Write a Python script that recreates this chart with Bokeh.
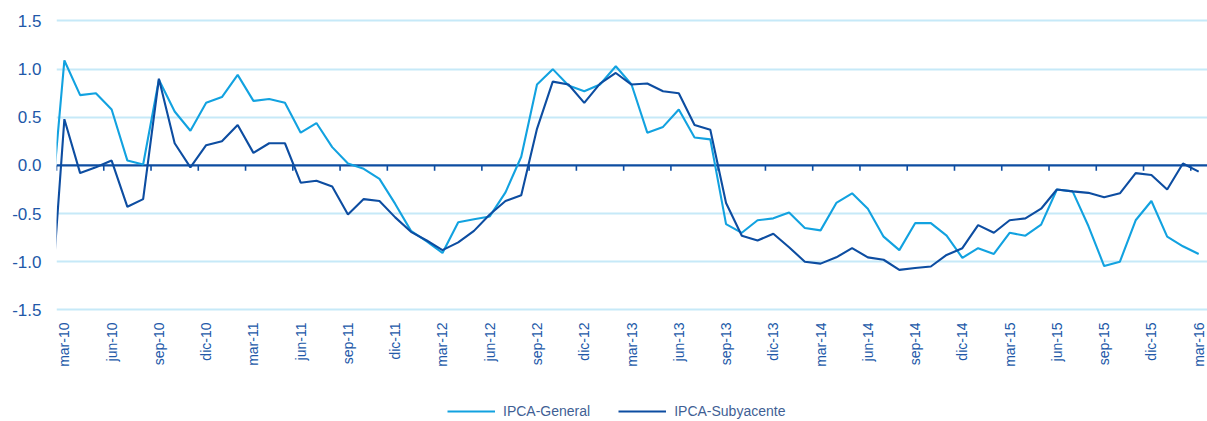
from math import pi
from bokeh.plotting import figure
from bokeh.models import (Range1d, FixedTicker, PrintfTickFormatter, Span,
                          Legend, LegendItem, ColumnDataSource)
from bokeh.core.properties import value
from bokeh.embed import file_html
from bokeh.resources import INLINE

# Quarterly axis labels (mar-10 ... mar-16)
tick_labels = ["mar-10", "jun-10", "sep-10", "dic-10",
               "mar-11", "jun-11", "sep-11", "dic-11",
               "mar-12", "jun-12", "sep-12", "dic-12",
               "mar-13", "jun-13", "sep-13", "dic-13",
               "mar-14", "jun-14", "sep-14", "dic-14",
               "mar-15", "jun-15", "sep-15", "dic-15",
               "mar-16"]

# Monthly values, feb-10 (partly outside the plot) ... mar-16
ipca_general = [
    -0.75,
    1.09, 0.73, 0.75, 0.58, 0.05, 0.01, 0.89, 0.56, 0.36, 0.65, 0.71, 0.94,
    0.67, 0.69, 0.65, 0.34, 0.44, 0.19, 0.02, -0.035, -0.14, -0.40, -0.68, -0.79,
    -0.91, -0.59, -0.56, -0.53, -0.28, 0.09, 0.84, 1.00, 0.83, 0.77, 0.84, 1.03,
    0.84, 0.34, 0.40, 0.58, 0.29, 0.27, -0.61, -0.70, -0.57, -0.55, -0.49, -0.65,
    -0.675, -0.39, -0.29, -0.45, -0.74, -0.88, -0.60, -0.60, -0.73, -0.96, -0.86, -0.92,
    -0.70, -0.73, -0.615, -0.25, -0.27, -0.63, -1.045, -1.00, -0.57, -0.37, -0.74, -0.84,
    -0.92,
]
ipca_subyacente = [
    -1.79,
    0.48, -0.08, -0.02, 0.05, -0.43, -0.35, 0.90, 0.23, -0.02, 0.21, 0.25, 0.42,
    0.13, 0.23, 0.23, -0.18, -0.16, -0.22, -0.51, -0.35, -0.37, -0.54, -0.69, -0.78,
    -0.88, -0.80, -0.68, -0.51, -0.37, -0.31, 0.38, 0.87, 0.84, 0.65, 0.85, 0.96,
    0.84, 0.85, 0.77, 0.75, 0.42, 0.37, -0.39, -0.73, -0.78, -0.71, -0.85, -1.00,
    -1.02, -0.955, -0.86, -0.955, -0.98, -1.085, -1.065, -1.05, -0.93, -0.86, -0.62, -0.70,
    -0.57, -0.55, -0.45, -0.25, -0.27, -0.285, -0.33, -0.29, -0.08, -0.10, -0.25, 0.02,
    -0.065,
]
y_ticks = [-1.5, -1.0, -0.5, 0.0, 0.5, 1.0, 1.5]

LIGHT = "#12A2E0"
DARK = "#0D4DA1"
TEXT = "#2158A8"
GRID = "#C6E9F8"
FONT = "Liberation Sans"

x = list(range(-1, len(ipca_general) - 1))
tick_pos = [3 * k for k in range(len(tick_labels))]

src = ColumnDataSource(dict(x=x, gen=ipca_general, sub=ipca_subyacente))

# the frame reaches the bottom of the page; the area below -1.5 holds the
# category labels and the legend
p = figure(width=1207, height=421, output_backend="svg", toolbar_location=None,
           x_range=Range1d(-0.5, 72.56), y_range=Range1d(-2.66, 1.557),
           min_border_left=56, min_border_right=0, min_border_top=15,
           min_border_bottom=0)
p.outline_line_color = None
p.background_fill_color = "white"
p.xaxis.visible = False

p.xgrid.visible = False
p.ygrid.ticker = FixedTicker(ticks=[t for t in y_ticks if t != 0])
p.ygrid.grid_line_color = GRID
p.ygrid.grid_line_width = 2

zero = Span(location=0, dimension="width", line_color=DARK, line_width=2.2,
            level="underlay")
p.add_layout(zero)

# small tick marks hanging from the zero line, between quarters
mk = [t - 0.5 for t in tick_pos]
p.segment(x0=mk, y0=[0] * len(mk), x1=mk, y1=[-0.055] * len(mk),
          line_color=DARK, line_width=1.6)

r1 = p.line("x", "gen", source=src, line_color=LIGHT, line_width=2.1)
r2 = p.line("x", "sub", source=src, line_color=DARK, line_width=2.1)

# category labels, vertical, under the bottom gridline
lab_src = ColumnDataSource(dict(x=tick_pos, y=[-1.632] * len(tick_pos),
                                t=tick_labels))
p.text(x="x", y="y", text="t", source=lab_src, angle=pi / 2,
       text_align="right", text_baseline="middle",
       text_font=value(FONT), text_font_size="14px", text_color=TEXT)

yax = p.yaxis[0]
yax.ticker = FixedTicker(ticks=y_ticks)
yax.formatter = PrintfTickFormatter(format="%.1f")
yax.axis_line_color = None
yax.major_tick_line_color = None
yax.minor_tick_line_color = None
yax.major_tick_out = 0
yax.major_tick_in = 0
yax.major_label_standoff = 15
yax.major_label_text_font = FONT
yax.major_label_text_font_size = "17px"
yax.major_label_text_color = TEXT

legend = Legend(items=[LegendItem(label="IPCA-General", renderers=[r1]),
                       LegendItem(label="IPCA-Subyacente", renderers=[r2])],
                orientation="horizontal", location=(391, 2))
legend.border_line_color = None
legend.background_fill_alpha = 0
legend.padding = 0
legend.margin = 0
legend.spacing = 28
legend.glyph_width = 48
legend.glyph_height = 14
legend.label_height = 14
legend.label_standoff = 8
legend.label_text_font = FONT
legend.label_text_font_size = "14px"
legend.label_text_color = "#3F5F95"
p.add_layout(legend, "center")

open("out.html", "w").write(file_html(p, INLINE))
